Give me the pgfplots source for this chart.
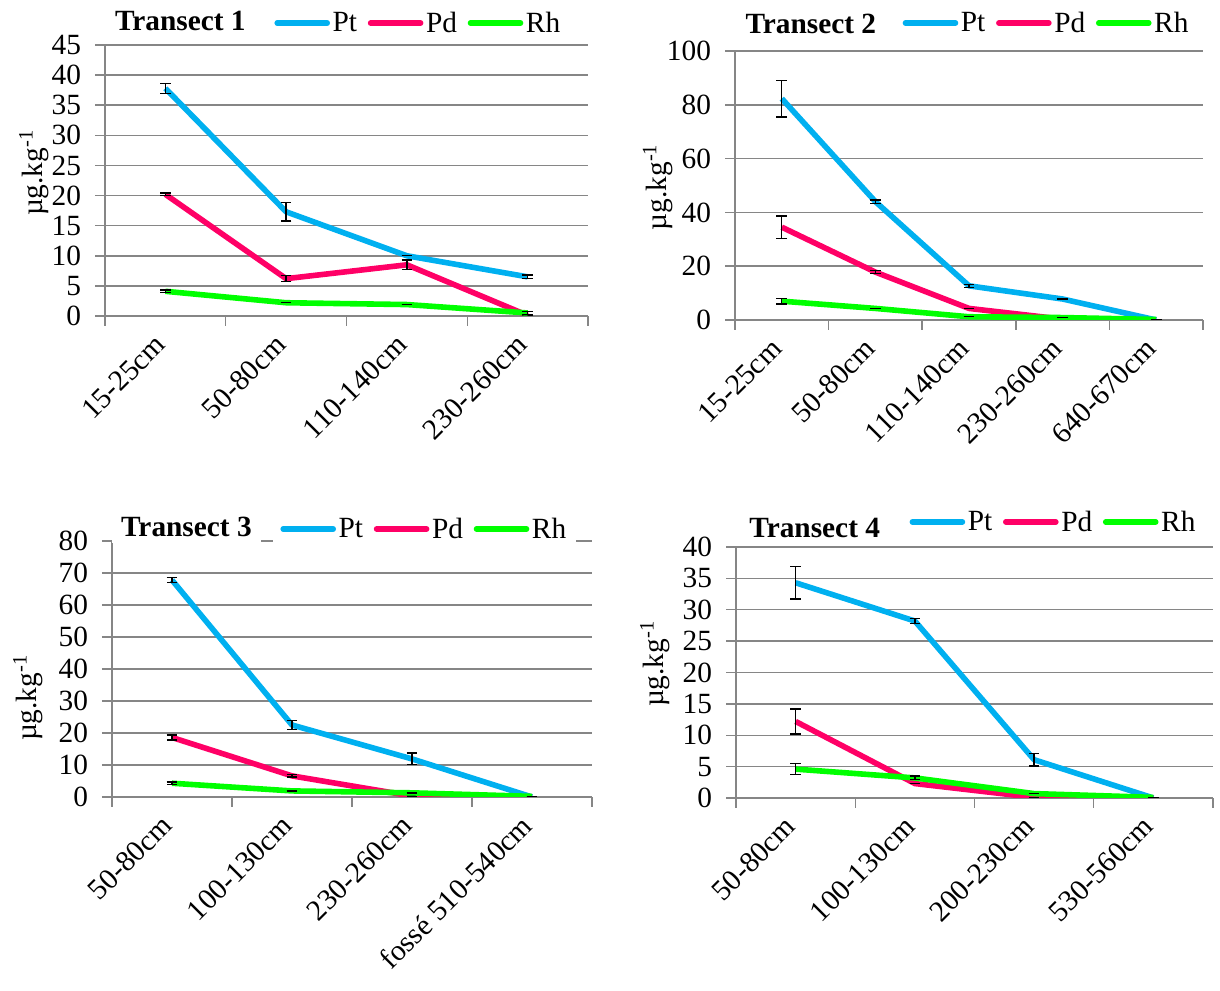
\documentclass[border=0pt]{standalone}
\usepackage{pgfplots}
\pgfplotsset{compat=1.18}
\usepackage{fontspec}
\setmainfont{Liberation Serif}
\definecolor{cpt}{RGB}{0,176,240}
\definecolor{cpd}{RGB}{255,0,102}
\definecolor{crh}{RGB}{0,255,0}
\definecolor{cgrid}{RGB}{134,134,134}
\newcommand{\fs}{\fontsize{22}{25}\selectfont}

\pgfplotsset{
  panel/.style={
    scale only axis,
    axis lines*=left,
    axis line style={cgrid, line width=1.1pt},
    ymajorgrids, grid style={cgrid, line width=1.1pt},
    tick align=outside, major tick length=7.5pt,
    tick style={cgrid, line width=1.1pt},
    xmin=0, ymin=0,
    xticklabels={},
    tick label style={font=\fs},
    yticklabel style={xshift=-7pt},
    /pgf/number format/assume math mode=true,
    ylabel style={font=\fs, anchor=center},
    ylabel={µg.kg\textsuperscript{-1}},
    extra x tick style={major tick length=0pt,
      tick label style={xshift=-1.5pt, yshift=-15.5pt, rotate=45, anchor=east}},
    every axis plot/.append style={line width=4.2pt, no markers, line join=round},
    error bars/error bar style={black, line width=1pt},
    error bars/error mark options={black, line width=1pt, mark size=4pt, rotate=90},
    legend columns=3,
    legend image code/.code={\draw[#1, line width=4.2pt, line cap=round] (0pt,0pt) -- (37.5pt,0pt);},
    legend style={draw=none, fill=white, font=\fs, anchor=west,
      inner xsep=5.5pt, inner ysep=6pt,
      nodes={inner xsep=2pt, inner ysep=1pt, anchor=west},
      /tikz/every even column/.append style={column sep=6pt}},
    title style={anchor=center, font=\bfseries\fs, fill=white, inner xsep=7pt, inner ysep=4pt},
  }
}

\begin{document}
\begin{tikzpicture}
\path (0pt,0pt) rectangle (915pt,743.25pt);

% ---------------- Transect 1
\begin{axis}[panel, at={(78.75pt,506.25pt)}, anchor=south west,
  width=362.25pt, height=203.25pt,
  xmax=4, ymax=45, ytick={0,5,...,45}, xtick={0,...,4},
  extra x ticks={0.5,1.5,2.5,3.5},
  extra x tick labels={15-25cm,50-80cm,110-140cm,230-260cm},
  ylabel style={at={(axis description cs:-0.147,0.528)}},
  title={Transect 1}, title style={at={(axis description cs:0.156,1.058)}, inner ysep=1pt},
  legend style={at={(axis description cs:0.335,1.081)}},
]
\addplot[cpt, error bars/.cd, y dir=both, y explicit] table[x=x,y=y,y error=e] {
x y e
0.5 37.8 0.8
1.5 17.3 1.5
2.5 10.0 0.0
3.5 6.5 0.3
};
\addplot[cpd, error bars/.cd, y dir=both, y explicit] table[x=x,y=y,y error=e] {
x y e
0.5 20.2 0.2
1.5 6.2 0.5
2.5 8.5 0.8
3.5 0.1 0.0
};
\addplot[crh, error bars/.cd, y dir=both, y explicit] table[x=x,y=y,y error=e] {
x y e
0.5 4.1 0.2
1.5 2.2 0.0
2.5 1.9 0.0
3.5 0.5 0.2
};
\legend{Pt,Pd,Rh}
\end{axis}

% ---------------- Transect 2
\begin{axis}[panel, at={(551.25pt,503.25pt)}, anchor=south west,
  width=351pt, height=201.75pt,
  xmax=5, ymax=100, ytick={0,20,...,100}, xtick={0,...,5},
  extra x ticks={0.5,1.5,2.5,3.5,4.5},
  extra x tick labels={15-25cm,50-80cm,110-140cm,230-260cm,640-670cm},
  ylabel style={at={(axis description cs:-0.165,0.494)}},
  title={Transect 2}, title style={at={(axis description cs:0.162,1.072)}, inner ysep=1pt},
  legend style={at={(axis description cs:0.342,1.104)}, inner ysep=1pt},
]
\addplot[cpt, error bars/.cd, y dir=both, y explicit] table[x=x,y=y,y error=e] {
x y e
0.5 82.3 6.8
1.5 44.0 0.6
2.5 12.7 0.5
3.5 7.8 0.0
4.5 0.0 0.0
};
\addplot[cpd, error bars/.cd, y dir=both, y explicit] table[x=x,y=y,y error=e] {
x y e
0.5 34.5 4.2
1.5 17.8 0.6
2.5 4.3 0.0
3.5 0.3 0.0
4.5 0.0 0.0
};
\addplot[crh, error bars/.cd, y dir=both, y explicit] table[x=x,y=y,y error=e] {
x y e
0.5 7.0 1.0
1.5 4.3 0.0
2.5 1.2 0.0
3.5 0.9 0.0
4.5 0.2 0.0
};
\legend{Pt,Pd,Rh}
\end{axis}

% ---------------- Transect 3
\begin{axis}[panel, at={(84pt,145.5pt)}, anchor=south west,
  width=360pt, height=192pt,
  xmax=4, ymax=80, ytick={0,10,...,80}, xtick={0,...,4},
  extra x ticks={0.5,1.5,2.5,3.5},
  extra x tick labels={50-80cm,100-130cm,230-260cm,fossé 510-540cm},
  ylabel style={at={(axis description cs:-0.175,0.387)}},
  title={Transect 3}, title style={at={(axis description cs:0.155,1.024)}, inner ysep=5pt},
  legend style={at={(axis description cs:0.335,1.047)}},
]
\addplot[cpt, error bars/.cd, y dir=both, y explicit] table[x=x,y=y,y error=e] {
x y e
0.5 67.8 0.8
1.5 22.5 1.5
2.5 11.9 1.8
3.5 0.0 0.0
};
\addplot[cpd, error bars/.cd, y dir=both, y explicit] table[x=x,y=y,y error=e] {
x y e
0.5 18.6 0.8
1.5 6.6 0.4
2.5 0.3 0.0
3.5 0.0 0.0
};
\addplot[crh, error bars/.cd, y dir=both, y explicit] table[x=x,y=y,y error=e] {
x y e
0.5 4.3 0.4
1.5 1.9 0.0
2.5 1.3 0.0
3.5 0.2 0.0
};
\legend{Pt,Pd,Rh}
\end{axis}

% ---------------- Transect 4
\begin{axis}[panel, at={(552pt,144.75pt)}, anchor=south west,
  width=357.75pt, height=188.25pt,
  xmax=4, ymax=40, ytick={0,5,...,40}, xtick={0,...,4},
  extra x ticks={0.5,1.5,2.5,3.5},
  extra x tick labels={50-80cm,100-130cm,200-230cm,530-560cm},
  ylabel style={at={(axis description cs:-0.170,0.534)}},
  title={Transect 4}, title style={at={(axis description cs:0.165,1.045)}, inner ysep=5.5pt},
  legend style={at={(axis description cs:0.348,1.10)}, inner ysep=1pt},
]
\addplot[cpt, error bars/.cd, y dir=both, y explicit] table[x=x,y=y,y error=e] {
x y e
0.5 34.3 2.6
1.5 28.2 0.4
2.5 6.1 1.0
3.5 0.0 0.0
};
\addplot[cpd, error bars/.cd, y dir=both, y explicit] table[x=x,y=y,y error=e] {
x y e
0.5 12.2 2.0
1.5 2.3 0.0
2.5 0.1 0.0
3.5 0.0 0.0
};
\addplot[crh, error bars/.cd, y dir=both, y explicit] table[x=x,y=y,y error=e] {
x y e
0.5 4.6 0.9
1.5 3.2 0.3
2.5 0.7 0.0
3.5 0.1 0.0
};
\legend{Pt,Pd,Rh}
\end{axis}
\end{tikzpicture}
\end{document}
